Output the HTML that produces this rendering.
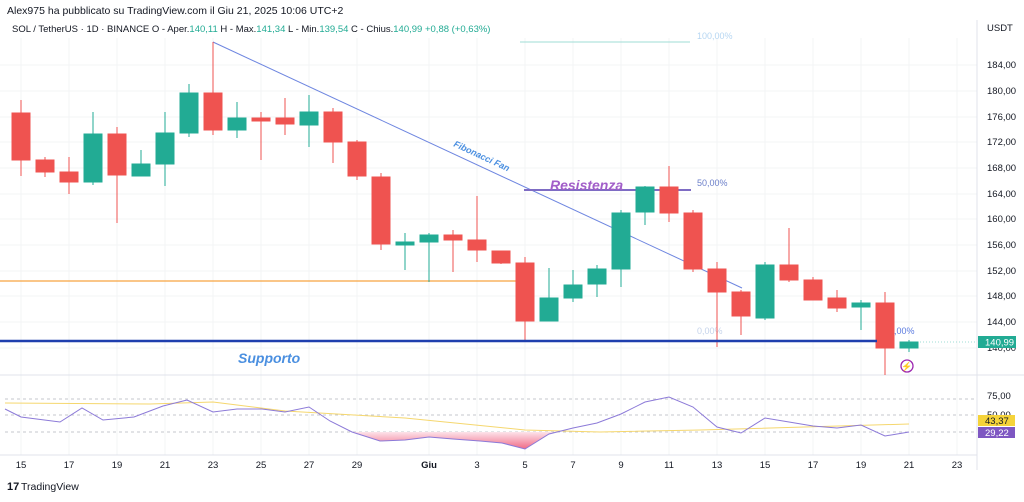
<!DOCTYPE html>
<html><head><meta charset="utf-8"><style>
body{margin:0;background:#fff;width:1024px;height:497px;overflow:hidden;font-family:"Liberation Sans",sans-serif}
svg text{font-family:"Liberation Sans",sans-serif}
</style></head><body>
<svg width="1024" height="497" viewBox="0 0 1024 497" xmlns="http://www.w3.org/2000/svg">
<rect width="1024" height="497" fill="#fff"/>
<!-- grid -->
<g stroke="#f3f4f6" stroke-width="1">
<line x1="0" y1="65" x2="977" y2="65"/><line x1="0" y1="91" x2="977" y2="91"/><line x1="0" y1="117" x2="977" y2="117"/><line x1="0" y1="142" x2="977" y2="142"/><line x1="0" y1="168" x2="977" y2="168"/><line x1="0" y1="194" x2="977" y2="194"/><line x1="0" y1="219" x2="977" y2="219"/><line x1="0" y1="245" x2="977" y2="245"/><line x1="0" y1="271" x2="977" y2="271"/><line x1="0" y1="296" x2="977" y2="296"/><line x1="0" y1="322" x2="977" y2="322"/><line x1="0" y1="348" x2="977" y2="348"/>
<line x1="21" y1="38" x2="21" y2="455"/><line x1="69" y1="38" x2="69" y2="455"/><line x1="117" y1="38" x2="117" y2="455"/><line x1="165" y1="38" x2="165" y2="455"/><line x1="213" y1="38" x2="213" y2="455"/><line x1="261" y1="38" x2="261" y2="455"/><line x1="309" y1="38" x2="309" y2="455"/><line x1="357" y1="38" x2="357" y2="455"/><line x1="429" y1="38" x2="429" y2="455"/><line x1="477" y1="38" x2="477" y2="455"/><line x1="525" y1="38" x2="525" y2="455"/><line x1="573" y1="38" x2="573" y2="455"/><line x1="621" y1="38" x2="621" y2="455"/><line x1="669" y1="38" x2="669" y2="455"/><line x1="717" y1="38" x2="717" y2="455"/><line x1="765" y1="38" x2="765" y2="455"/><line x1="813" y1="38" x2="813" y2="455"/><line x1="861" y1="38" x2="861" y2="455"/><line x1="909" y1="38" x2="909" y2="455"/><line x1="957" y1="38" x2="957" y2="455"/>
</g>
<line x1="977" y1="20" x2="977" y2="470" stroke="#e0e3eb"/>
<line x1="0" y1="375" x2="1024" y2="375" stroke="#e0e3eb"/>
<line x1="0" y1="455" x2="977" y2="455" stroke="#e0e3eb"/>

<!-- header -->
<text x="7" y="14" font-size="10.5" fill="#131722">Alex975 ha pubblicato su TradingView.com il Giu 21, 2025 10:06 UTC+2</text>
<text x="12" y="32" font-size="9.5" fill="#131722">SOL / TetherUS · 1D · BINANCE  O - Aper.<tspan fill="#22ab94">140,11</tspan>  H - Max.<tspan fill="#22ab94">141,34</tspan>  L - Min.<tspan fill="#22ab94">139,54</tspan>  C - Chius.<tspan fill="#22ab94">140,99</tspan>  <tspan fill="#22ab94">+0,88 (+0,63%)</tspan></text>

<!-- drawings -->
<line x1="0" y1="281" x2="520" y2="281" stroke="#f7a440" stroke-width="1.2"/>
<line x1="520" y1="42" x2="690" y2="42" stroke="#9fdcd6" stroke-width="1"/>
<text x="697" y="39" font-size="9" fill="#b6d6f2">100,00%</text>
<line x1="213" y1="42" x2="742" y2="288" stroke="#6e86e0" stroke-width="1"/>
<text x="0" y="0" font-size="9" font-weight="bold" font-style="italic" fill="#4a8fe0" transform="translate(453,146) rotate(25)">Fibonacci Fan</text>
<line x1="524" y1="190" x2="691" y2="190" stroke="#7e6cc4" stroke-width="2"/>
<text x="550" y="190" font-size="14" font-weight="bold" font-style="italic" fill="#a25ec9">Resistenza</text>
<text x="697" y="186" font-size="9" fill="#6a7ec9">50,00%</text>
<text x="697" y="334" font-size="9" fill="#c5d3ea">0,00%</text>
<text x="889" y="334" font-size="9" fill="#5b7be0">0,00%</text>
<line x1="920" y1="342" x2="977" y2="342" stroke="#9fdcd6" stroke-dasharray="1,2"/>

<!-- candles -->
<g stroke-width="1">
<g stroke="#ef5350" fill="#ef5350">
<line x1="21" y1="100" x2="21" y2="176"/><rect x="12" y="113" width="18" height="47"/>
<line x1="45" y1="157" x2="45" y2="177"/><rect x="36" y="160" width="18" height="12"/>
<line x1="69" y1="157" x2="69" y2="194"/><rect x="60" y="172" width="18" height="10"/>
<line x1="117" y1="127" x2="117" y2="223"/><rect x="108" y="134" width="18" height="41"/>
<line x1="213" y1="42" x2="213" y2="135"/><rect x="204" y="93" width="18" height="37"/>
<line x1="261" y1="112" x2="261" y2="160"/><rect x="252" y="118" width="18" height="3"/>
<line x1="285" y1="98" x2="285" y2="135"/><rect x="276" y="118" width="18" height="6"/>
<line x1="333" y1="108" x2="333" y2="163"/><rect x="324" y="112" width="18" height="30"/>
<line x1="357" y1="140" x2="357" y2="180"/><rect x="348" y="142" width="18" height="34"/>
<line x1="381" y1="173" x2="381" y2="250"/><rect x="372" y="177" width="18" height="67"/>
<line x1="453" y1="230" x2="453" y2="272"/><rect x="444" y="235" width="18" height="5"/>
<line x1="477" y1="196" x2="477" y2="262"/><rect x="468" y="240" width="18" height="10"/>
<line x1="501" y1="252" x2="501" y2="264"/><rect x="492" y="251" width="18" height="12"/>
<line x1="525" y1="257" x2="525" y2="340"/><rect x="516" y="263" width="18" height="58"/>
<line x1="669" y1="166" x2="669" y2="222"/><rect x="660" y="187" width="18" height="26"/>
<line x1="693" y1="210" x2="693" y2="272"/><rect x="684" y="213" width="18" height="56"/>
<line x1="717" y1="262" x2="717" y2="347"/><rect x="708" y="269" width="18" height="23"/>
<line x1="741" y1="290" x2="741" y2="335"/><rect x="732" y="292" width="18" height="24"/>
<line x1="789" y1="228" x2="789" y2="282"/><rect x="780" y="265" width="18" height="15"/>
<line x1="813" y1="277" x2="813" y2="300"/><rect x="804" y="280" width="18" height="20"/>
<line x1="837" y1="290" x2="837" y2="312"/><rect x="828" y="298" width="18" height="10"/>
<line x1="885" y1="292" x2="885" y2="375"/><rect x="876" y="303" width="18" height="45"/>
</g>
<g stroke="#22ab94" fill="#22ab94">
<line x1="93" y1="112" x2="93" y2="185"/><rect x="84" y="134" width="18" height="48"/>
<line x1="141" y1="150" x2="141" y2="176"/><rect x="132" y="164" width="18" height="12"/>
<line x1="165" y1="112" x2="165" y2="186"/><rect x="156" y="133" width="18" height="31"/>
<line x1="189" y1="84" x2="189" y2="137"/><rect x="180" y="93" width="18" height="40"/>
<line x1="237" y1="102" x2="237" y2="138"/><rect x="228" y="118" width="18" height="12"/>
<line x1="309" y1="95" x2="309" y2="147"/><rect x="300" y="112" width="18" height="13"/>
<line x1="405" y1="233" x2="405" y2="270"/><rect x="396" y="242" width="18" height="3"/>
<line x1="429" y1="233" x2="429" y2="282"/><rect x="420" y="235" width="18" height="7"/>
<line x1="549" y1="268" x2="549" y2="321"/><rect x="540" y="298" width="18" height="23"/>
<line x1="573" y1="270" x2="573" y2="302"/><rect x="564" y="285" width="18" height="13"/>
<line x1="597" y1="265" x2="597" y2="297"/><rect x="588" y="269" width="18" height="15"/>
<line x1="621" y1="210" x2="621" y2="287"/><rect x="612" y="213" width="18" height="56"/>
<line x1="645" y1="186" x2="645" y2="225"/><rect x="636" y="187" width="18" height="25"/>
<line x1="765" y1="262" x2="765" y2="320"/><rect x="756" y="265" width="18" height="53"/>
<line x1="861" y1="300" x2="861" y2="330"/><rect x="852" y="303" width="18" height="4"/>
<line x1="909" y1="340" x2="909" y2="352"/><rect x="900" y="342" width="18" height="6"/>
</g>
</g>
<line x1="0" y1="341" x2="877" y2="341" stroke="#1f3fae" stroke-width="2.5"/>
<text x="238" y="363" font-size="14" font-weight="bold" font-style="italic" fill="#4a8fe0">Supporto</text>
<circle cx="907" cy="366" r="6" fill="none" stroke="#9c27b0" stroke-width="1.3"/>
<text x="907" y="369.5" font-size="9" fill="#9c27b0" text-anchor="middle">⚡</text>

<!-- price axis -->
<g font-size="9.5" fill="#131722">
<text x="987" y="31">USDT</text>
<text x="987" y="68">184,00</text><text x="987" y="94">180,00</text><text x="987" y="120">176,00</text><text x="987" y="145">172,00</text><text x="987" y="171">168,00</text><text x="987" y="197">164,00</text><text x="987" y="222">160,00</text><text x="987" y="248">156,00</text><text x="987" y="274">152,00</text><text x="987" y="299">148,00</text><text x="987" y="325">144,00</text><text x="987" y="351">140,00</text>
</g>
<rect x="978" y="336" width="38" height="12" fill="#22ab94"/>
<text x="985" y="345.5" font-size="9.5" fill="#fff">140,99</text>

<!-- RSI -->
<g stroke="#b2b5be" stroke-dasharray="3,3" stroke-width="0.8">
<line x1="5" y1="399" x2="977" y2="399"/><line x1="5" y1="415" x2="977" y2="415"/><line x1="5" y1="432" x2="977" y2="432"/>
</g>
<defs><linearGradient id="pg" x1="0" y1="0" x2="0" y2="1"><stop offset="0" stop-color="#fde3ea"/><stop offset="1" stop-color="#f06a86"/></linearGradient></defs>
<polygon points="352,432 380,441 405,440 429,437 453,439 480,441 502,443 525,449 549,434 553,432" fill="url(#pg)"/>
<polyline points="5,403 150,404 213,402 285,411 405,418 525,430 600,432 700,430 909,424" fill="none" stroke="#f5d76e" stroke-width="1"/>
<polyline points="5,409 21,417 60,422 82,408 103,420 134,417 163,406 187,400 213,412 237,409 262,409 285,412 309,407 330,421 352,432 380,441 405,440 429,437 453,439 480,441 502,443 525,449 549,434 573,428 597,423 621,414 645,402 669,397 693,407 717,427 741,433 765,418 789,422 813,426 837,428 861,425 885,436 909,432" fill="none" stroke="#8c7ad8" stroke-width="1"/>
<g font-size="9.5" fill="#131722"><text x="987" y="399">75,00</text><text x="987" y="418">50,00</text></g>
<rect x="978" y="415" width="37" height="11" fill="#f5d33a"/><text x="985" y="424" font-size="9.5" fill="#131722">43,37</text>
<rect x="978" y="427" width="37" height="11" fill="#7e57c2"/><text x="985" y="436" font-size="9.5" fill="#fff">29,22</text>

<!-- date axis -->
<g font-size="9.5" fill="#131722" text-anchor="middle">
<text x="21" y="468">15</text><text x="69" y="468">17</text><text x="117" y="468">19</text><text x="165" y="468">21</text><text x="213" y="468">23</text><text x="261" y="468">25</text><text x="309" y="468">27</text><text x="357" y="468">29</text><text x="429" y="468" font-weight="bold">Giu</text><text x="477" y="468">3</text><text x="525" y="468">5</text><text x="573" y="468">7</text><text x="621" y="468">9</text><text x="669" y="468">11</text><text x="717" y="468">13</text><text x="765" y="468">15</text><text x="813" y="468">17</text><text x="861" y="468">19</text><text x="909" y="468">21</text><text x="957" y="468">23</text>
</g>
<text x="7" y="490" font-size="11" font-weight="bold" fill="#131722">17</text>
<text x="21" y="490" font-size="10.5" fill="#131722">TradingView</text>
</svg>
</body></html>
